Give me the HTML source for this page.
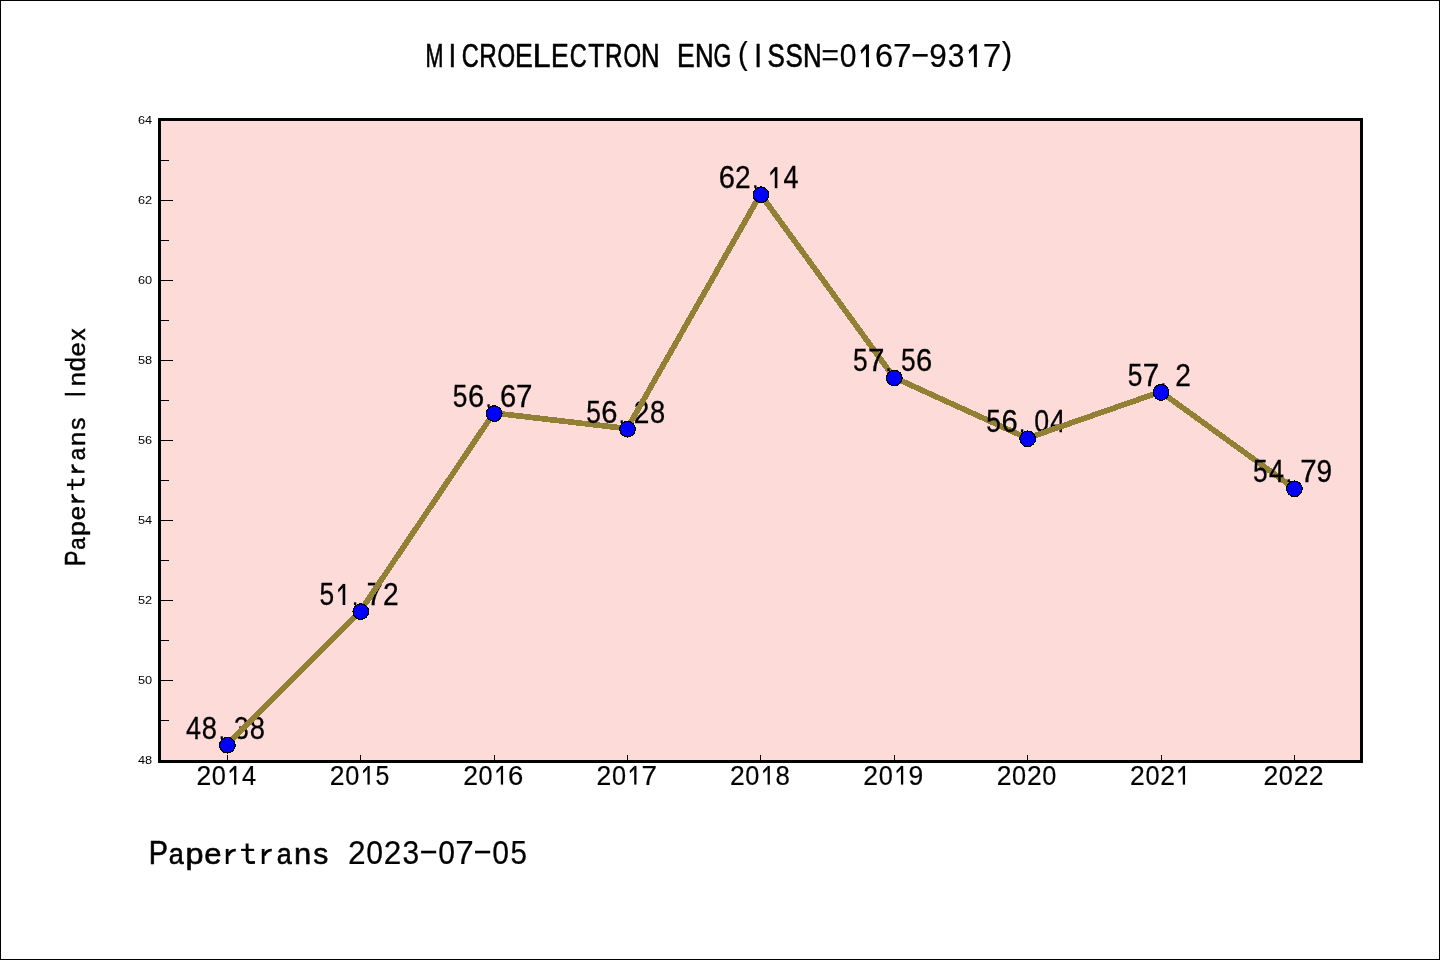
<!DOCTYPE html><html><head><meta charset="utf-8"><style>html,body{margin:0;padding:0;background:#fff;}svg{display:block;will-change:transform;}text{font-family:"Liberation Sans",sans-serif;fill:#000;}</style></head><body>
<svg width="1440" height="960" viewBox="0 0 1440 960">
<rect x="0" y="0" width="1440" height="960" fill="#fff"/>
<rect x="0.5" y="0.5" width="1439" height="959" fill="none" stroke="#000" stroke-width="1"/>
<rect x="159" y="119" width="1202" height="642" fill="#fddbd8"/>
<rect x="161" y="760" width="12" height="1" fill="#000"/>
<rect x="161" y="720" width="8" height="1" fill="#000"/>
<rect x="161" y="680" width="12" height="1" fill="#000"/>
<rect x="161" y="640" width="8" height="1" fill="#000"/>
<rect x="161" y="600" width="12" height="1" fill="#000"/>
<rect x="161" y="560" width="8" height="1" fill="#000"/>
<rect x="161" y="520" width="12" height="1" fill="#000"/>
<rect x="161" y="480" width="8" height="1" fill="#000"/>
<rect x="161" y="440" width="12" height="1" fill="#000"/>
<rect x="161" y="400" width="8" height="1" fill="#000"/>
<rect x="161" y="360" width="12" height="1" fill="#000"/>
<rect x="161" y="320" width="8" height="1" fill="#000"/>
<rect x="161" y="280" width="12" height="1" fill="#000"/>
<rect x="161" y="240" width="8" height="1" fill="#000"/>
<rect x="161" y="200" width="12" height="1" fill="#000"/>
<rect x="161" y="160" width="8" height="1" fill="#000"/>
<rect x="161" y="120" width="12" height="1" fill="#000"/>
<rect x="227" y="755" width="1" height="5" fill="#000"/>
<rect x="360" y="755" width="1" height="5" fill="#000"/>
<rect x="494" y="755" width="1" height="5" fill="#000"/>
<rect x="627" y="755" width="1" height="5" fill="#000"/>
<rect x="760" y="755" width="1" height="5" fill="#000"/>
<rect x="894" y="755" width="1" height="5" fill="#000"/>
<rect x="1027" y="755" width="1" height="5" fill="#000"/>
<rect x="1161" y="755" width="1" height="5" fill="#000"/>
<rect x="1294" y="755" width="1" height="5" fill="#000"/>
<g transform="scale(1.1300,1)">
<text x="128.36" y="764.00" font-size="11.30" text-anchor="middle">48</text>
<text x="128.36" y="684.00" font-size="11.30" text-anchor="middle">50</text>
<text x="128.36" y="604.00" font-size="11.30" text-anchor="middle">52</text>
<text x="128.36" y="524.00" font-size="11.30" text-anchor="middle">54</text>
<text x="128.36" y="444.00" font-size="11.30" text-anchor="middle">56</text>
<text x="128.36" y="364.00" font-size="11.30" text-anchor="middle">58</text>
<text x="128.36" y="284.00" font-size="11.30" text-anchor="middle">60</text>
<text x="128.36" y="204.00" font-size="11.30" text-anchor="middle">62</text>
<text x="128.36" y="124.00" font-size="11.30" text-anchor="middle">64</text>
</g>
<text transform="translate(203.80,784.60) scale(0.9756,1.0000)" x="-7.56" y="0" font-size="27.18" stroke="#000" stroke-width="0.20">2</text>
<text transform="translate(218.90,784.60) scale(0.9297,1.0000)" x="-7.56" y="0" font-size="27.18" stroke="#000" stroke-width="0.20">0</text>
<path d="M234.07 765.90H236.34V784.60H234.07Z" fill="#000"/>
<path d="M229.55 770.76L234.27 765.90L234.27 768.97L229.85 773.49Z" fill="#000"/>
<text transform="translate(249.10,784.60) scale(0.9371,1.0000)" x="-7.47" y="0" font-size="27.18" stroke="#000" stroke-width="0.20">4</text>
<text transform="translate(337.18,784.60) scale(0.9756,1.0000)" x="-7.56" y="0" font-size="27.18" stroke="#000" stroke-width="0.20">2</text>
<text transform="translate(352.27,784.60) scale(0.9297,1.0000)" x="-7.56" y="0" font-size="27.18" stroke="#000" stroke-width="0.20">0</text>
<path d="M367.44 765.90H369.72V784.60H367.44Z" fill="#000"/>
<path d="M362.92 770.76L367.64 765.90L367.64 768.97L363.22 773.49Z" fill="#000"/>
<text transform="translate(382.48,784.60) scale(0.9139,1.0000)" x="-7.53" y="0" font-size="27.18" stroke="#000" stroke-width="0.20">5</text>
<text transform="translate(470.55,784.60) scale(0.9756,1.0000)" x="-7.56" y="0" font-size="27.18" stroke="#000" stroke-width="0.20">2</text>
<text transform="translate(485.65,784.60) scale(0.9297,1.0000)" x="-7.56" y="0" font-size="27.18" stroke="#000" stroke-width="0.20">0</text>
<path d="M500.82 765.90H503.09V784.60H500.82Z" fill="#000"/>
<path d="M496.30 770.76L501.02 765.90L501.02 768.97L496.60 773.49Z" fill="#000"/>
<text transform="translate(515.85,784.60) scale(1.0113,1.0000)" x="-7.65" y="0" font-size="27.18" stroke="#000" stroke-width="0.20">6</text>
<text transform="translate(603.92,784.60) scale(0.9756,1.0000)" x="-7.56" y="0" font-size="27.18" stroke="#000" stroke-width="0.20">2</text>
<text transform="translate(619.02,784.60) scale(0.9297,1.0000)" x="-7.56" y="0" font-size="27.18" stroke="#000" stroke-width="0.20">0</text>
<path d="M634.19 765.90H636.47V784.60H634.19Z" fill="#000"/>
<path d="M629.67 770.76L634.39 765.90L634.39 768.97L629.97 773.49Z" fill="#000"/>
<text transform="translate(649.22,784.60) scale(1.0265,1.0000)" x="-7.57" y="0" font-size="27.18" stroke="#000" stroke-width="0.20">7</text>
<text transform="translate(737.30,784.60) scale(0.9756,1.0000)" x="-7.56" y="0" font-size="27.18" stroke="#000" stroke-width="0.20">2</text>
<text transform="translate(752.40,784.60) scale(0.9297,1.0000)" x="-7.56" y="0" font-size="27.18" stroke="#000" stroke-width="0.20">0</text>
<path d="M767.57 765.90H769.84V784.60H767.57Z" fill="#000"/>
<path d="M763.05 770.76L767.77 765.90L767.77 768.97L763.35 773.49Z" fill="#000"/>
<text transform="translate(782.60,784.60) scale(0.9471,1.0000)" x="-7.56" y="0" font-size="27.18" stroke="#000" stroke-width="0.20">8</text>
<text transform="translate(870.67,784.60) scale(0.9756,1.0000)" x="-7.56" y="0" font-size="27.18" stroke="#000" stroke-width="0.20">2</text>
<text transform="translate(885.77,784.60) scale(0.9297,1.0000)" x="-7.56" y="0" font-size="27.18" stroke="#000" stroke-width="0.20">0</text>
<path d="M900.94 765.90H903.22V784.60H900.94Z" fill="#000"/>
<path d="M896.42 770.76L901.14 765.90L901.14 768.97L896.72 773.49Z" fill="#000"/>
<text transform="translate(915.97,784.60) scale(0.9742,1.0000)" x="-7.55" y="0" font-size="27.18" stroke="#000" stroke-width="0.20">9</text>
<text transform="translate(1004.05,784.60) scale(0.9756,1.0000)" x="-7.56" y="0" font-size="27.18" stroke="#000" stroke-width="0.20">2</text>
<text transform="translate(1019.15,784.60) scale(0.9297,1.0000)" x="-7.56" y="0" font-size="27.18" stroke="#000" stroke-width="0.20">0</text>
<text transform="translate(1034.25,784.60) scale(0.9756,1.0000)" x="-7.56" y="0" font-size="27.18" stroke="#000" stroke-width="0.20">2</text>
<text transform="translate(1049.35,784.60) scale(0.9297,1.0000)" x="-7.56" y="0" font-size="27.18" stroke="#000" stroke-width="0.20">0</text>
<text transform="translate(1137.42,784.60) scale(0.9756,1.0000)" x="-7.56" y="0" font-size="27.18" stroke="#000" stroke-width="0.20">2</text>
<text transform="translate(1152.53,784.60) scale(0.9297,1.0000)" x="-7.56" y="0" font-size="27.18" stroke="#000" stroke-width="0.20">0</text>
<text transform="translate(1167.62,784.60) scale(0.9756,1.0000)" x="-7.56" y="0" font-size="27.18" stroke="#000" stroke-width="0.20">2</text>
<path d="M1182.79 765.90H1185.07V784.60H1182.79Z" fill="#000"/>
<path d="M1178.27 770.76L1182.99 765.90L1182.99 768.97L1178.57 773.49Z" fill="#000"/>
<text transform="translate(1270.80,784.60) scale(0.9756,1.0000)" x="-7.56" y="0" font-size="27.18" stroke="#000" stroke-width="0.20">2</text>
<text transform="translate(1285.90,784.60) scale(0.9297,1.0000)" x="-7.56" y="0" font-size="27.18" stroke="#000" stroke-width="0.20">0</text>
<text transform="translate(1301.00,784.60) scale(0.9756,1.0000)" x="-7.56" y="0" font-size="27.18" stroke="#000" stroke-width="0.20">2</text>
<text transform="translate(1316.10,784.60) scale(0.9756,1.0000)" x="-7.56" y="0" font-size="27.18" stroke="#000" stroke-width="0.20">2</text>
<text transform="translate(193.40,738.60) scale(0.8800,1.0000)" x="-8.43" y="0" font-size="30.67" stroke="#000" stroke-width="0.30">4</text>
<text transform="translate(209.40,738.60) scale(0.8894,1.0000)" x="-8.53" y="0" font-size="30.67" stroke="#000" stroke-width="0.30">8</text>
<text transform="translate(221.72,738.60) scale(0.7200,0.7800)" x="-4.26" y="0" font-size="30.67" stroke="#000" stroke-width="0.30">.</text>
<text transform="translate(241.40,738.60) scale(0.8693,1.0000)" x="-8.44" y="0" font-size="30.67" stroke="#000" stroke-width="0.30">3</text>
<text transform="translate(257.40,738.60) scale(0.8894,1.0000)" x="-8.53" y="0" font-size="30.67" stroke="#000" stroke-width="0.30">8</text>
<line transform="translate(-0.40,-0.60)" x1="227.40" y1="745.20" x2="360.77" y2="611.60" stroke="#928135" stroke-width="5.70" stroke-linecap="butt" shape-rendering="crispEdges"/>
<text transform="translate(326.77,605.00) scale(0.8583,1.0000)" x="-8.50" y="0" font-size="30.67" stroke="#000" stroke-width="0.30">5</text>
<path d="M342.65 583.90H345.25V605.00H342.65Z" fill="#000"/>
<path d="M338.05 589.39L342.85 583.90L342.85 587.42L338.35 592.51Z" fill="#000"/>
<text transform="translate(355.09,605.00) scale(0.7200,0.7800)" x="-4.26" y="0" font-size="30.67" stroke="#000" stroke-width="0.30">.</text>
<text transform="translate(374.77,605.00) scale(0.9640,1.0000)" x="-8.54" y="0" font-size="30.67" stroke="#000" stroke-width="0.30">7</text>
<text transform="translate(390.77,605.00) scale(0.9161,1.0000)" x="-8.53" y="0" font-size="30.67" stroke="#000" stroke-width="0.30">2</text>
<line transform="translate(-0.40,-0.60)" x1="360.77" y1="611.60" x2="494.15" y2="413.60" stroke="#928135" stroke-width="5.70" stroke-linecap="butt" shape-rendering="crispEdges"/>
<text transform="translate(460.15,407.00) scale(0.8583,1.0000)" x="-8.50" y="0" font-size="30.67" stroke="#000" stroke-width="0.30">5</text>
<text transform="translate(476.15,407.00) scale(0.9497,1.0000)" x="-8.63" y="0" font-size="30.67" stroke="#000" stroke-width="0.30">6</text>
<text transform="translate(488.47,407.00) scale(0.7200,0.7800)" x="-4.26" y="0" font-size="30.67" stroke="#000" stroke-width="0.30">.</text>
<text transform="translate(508.15,407.00) scale(0.9497,1.0000)" x="-8.63" y="0" font-size="30.67" stroke="#000" stroke-width="0.30">6</text>
<text transform="translate(524.15,407.00) scale(0.9640,1.0000)" x="-8.54" y="0" font-size="30.67" stroke="#000" stroke-width="0.30">7</text>
<line transform="translate(-0.40,-0.60)" x1="494.15" y1="413.60" x2="627.52" y2="429.20" stroke="#928135" stroke-width="5.70" stroke-linecap="butt" shape-rendering="crispEdges"/>
<text transform="translate(593.52,422.60) scale(0.8583,1.0000)" x="-8.50" y="0" font-size="30.67" stroke="#000" stroke-width="0.30">5</text>
<text transform="translate(609.52,422.60) scale(0.9497,1.0000)" x="-8.63" y="0" font-size="30.67" stroke="#000" stroke-width="0.30">6</text>
<text transform="translate(621.85,422.60) scale(0.7200,0.7800)" x="-4.26" y="0" font-size="30.67" stroke="#000" stroke-width="0.30">.</text>
<text transform="translate(641.52,422.60) scale(0.9161,1.0000)" x="-8.53" y="0" font-size="30.67" stroke="#000" stroke-width="0.30">2</text>
<text transform="translate(657.52,422.60) scale(0.8894,1.0000)" x="-8.53" y="0" font-size="30.67" stroke="#000" stroke-width="0.30">8</text>
<line transform="translate(-0.40,-0.60)" x1="627.52" y1="429.20" x2="760.90" y2="194.80" stroke="#928135" stroke-width="5.70" stroke-linecap="butt" shape-rendering="crispEdges"/>
<text transform="translate(726.90,188.20) scale(0.9497,1.0000)" x="-8.63" y="0" font-size="30.67" stroke="#000" stroke-width="0.30">6</text>
<text transform="translate(742.90,188.20) scale(0.9161,1.0000)" x="-8.53" y="0" font-size="30.67" stroke="#000" stroke-width="0.30">2</text>
<text transform="translate(755.22,188.20) scale(0.7200,0.7800)" x="-4.26" y="0" font-size="30.67" stroke="#000" stroke-width="0.30">.</text>
<path d="M774.77 167.10H777.38V188.20H774.77Z" fill="#000"/>
<path d="M770.18 172.59L774.97 167.10L774.97 170.62L770.48 175.71Z" fill="#000"/>
<text transform="translate(790.90,188.20) scale(0.8800,1.0000)" x="-8.43" y="0" font-size="30.67" stroke="#000" stroke-width="0.30">4</text>
<line transform="translate(-0.40,-0.60)" x1="760.90" y1="194.80" x2="894.27" y2="378.00" stroke="#928135" stroke-width="5.70" stroke-linecap="butt" shape-rendering="crispEdges"/>
<text transform="translate(860.27,371.40) scale(0.8583,1.0000)" x="-8.50" y="0" font-size="30.67" stroke="#000" stroke-width="0.30">5</text>
<text transform="translate(876.27,371.40) scale(0.9640,1.0000)" x="-8.54" y="0" font-size="30.67" stroke="#000" stroke-width="0.30">7</text>
<text transform="translate(888.60,371.40) scale(0.7200,0.7800)" x="-4.26" y="0" font-size="30.67" stroke="#000" stroke-width="0.30">.</text>
<text transform="translate(908.27,371.40) scale(0.8583,1.0000)" x="-8.50" y="0" font-size="30.67" stroke="#000" stroke-width="0.30">5</text>
<text transform="translate(924.27,371.40) scale(0.9497,1.0000)" x="-8.63" y="0" font-size="30.67" stroke="#000" stroke-width="0.30">6</text>
<line transform="translate(-0.40,-0.60)" x1="894.27" y1="378.00" x2="1027.65" y2="438.80" stroke="#928135" stroke-width="5.70" stroke-linecap="butt" shape-rendering="crispEdges"/>
<text transform="translate(993.65,432.20) scale(0.8583,1.0000)" x="-8.50" y="0" font-size="30.67" stroke="#000" stroke-width="0.30">5</text>
<text transform="translate(1009.65,432.20) scale(0.9497,1.0000)" x="-8.63" y="0" font-size="30.67" stroke="#000" stroke-width="0.30">6</text>
<text transform="translate(1021.97,432.20) scale(0.7200,0.7800)" x="-4.26" y="0" font-size="30.67" stroke="#000" stroke-width="0.30">.</text>
<text transform="translate(1041.65,432.20) scale(0.8731,1.0000)" x="-8.53" y="0" font-size="30.67" stroke="#000" stroke-width="0.30">0</text>
<text transform="translate(1057.65,432.20) scale(0.8800,1.0000)" x="-8.43" y="0" font-size="30.67" stroke="#000" stroke-width="0.30">4</text>
<line transform="translate(-0.40,-0.60)" x1="1027.65" y1="438.80" x2="1161.03" y2="392.40" stroke="#928135" stroke-width="5.70" stroke-linecap="butt" shape-rendering="crispEdges"/>
<text transform="translate(1135.03,385.80) scale(0.8583,1.0000)" x="-8.50" y="0" font-size="30.67" stroke="#000" stroke-width="0.30">5</text>
<text transform="translate(1151.03,385.80) scale(0.9640,1.0000)" x="-8.54" y="0" font-size="30.67" stroke="#000" stroke-width="0.30">7</text>
<text transform="translate(1163.35,385.80) scale(0.7200,0.7800)" x="-4.26" y="0" font-size="30.67" stroke="#000" stroke-width="0.30">.</text>
<text transform="translate(1183.03,385.80) scale(0.9161,1.0000)" x="-8.53" y="0" font-size="30.67" stroke="#000" stroke-width="0.30">2</text>
<line transform="translate(-0.40,-0.60)" x1="1161.03" y1="392.40" x2="1294.40" y2="488.80" stroke="#928135" stroke-width="5.70" stroke-linecap="butt" shape-rendering="crispEdges"/>
<text transform="translate(1260.40,482.20) scale(0.8583,1.0000)" x="-8.50" y="0" font-size="30.67" stroke="#000" stroke-width="0.30">5</text>
<text transform="translate(1276.40,482.20) scale(0.8800,1.0000)" x="-8.43" y="0" font-size="30.67" stroke="#000" stroke-width="0.30">4</text>
<text transform="translate(1288.72,482.20) scale(0.7200,0.7800)" x="-4.26" y="0" font-size="30.67" stroke="#000" stroke-width="0.30">.</text>
<text transform="translate(1308.40,482.20) scale(0.9640,1.0000)" x="-8.54" y="0" font-size="30.67" stroke="#000" stroke-width="0.30">7</text>
<text transform="translate(1324.40,482.20) scale(0.9148,1.0000)" x="-8.52" y="0" font-size="30.67" stroke="#000" stroke-width="0.30">9</text>
<circle cx="227.40" cy="745.20" r="7.80" fill="#0000ff" stroke="#000" stroke-width="1.2" shape-rendering="crispEdges"/>
<circle cx="360.77" cy="611.60" r="7.80" fill="#0000ff" stroke="#000" stroke-width="1.2" shape-rendering="crispEdges"/>
<circle cx="494.15" cy="413.60" r="7.80" fill="#0000ff" stroke="#000" stroke-width="1.2" shape-rendering="crispEdges"/>
<circle cx="627.52" cy="429.20" r="7.80" fill="#0000ff" stroke="#000" stroke-width="1.2" shape-rendering="crispEdges"/>
<circle cx="760.90" cy="194.80" r="7.80" fill="#0000ff" stroke="#000" stroke-width="1.2" shape-rendering="crispEdges"/>
<circle cx="894.27" cy="378.00" r="7.80" fill="#0000ff" stroke="#000" stroke-width="1.2" shape-rendering="crispEdges"/>
<circle cx="1027.65" cy="438.80" r="7.80" fill="#0000ff" stroke="#000" stroke-width="1.2" shape-rendering="crispEdges"/>
<circle cx="1161.03" cy="392.40" r="7.80" fill="#0000ff" stroke="#000" stroke-width="1.2" shape-rendering="crispEdges"/>
<circle cx="1294.40" cy="488.80" r="7.80" fill="#0000ff" stroke="#000" stroke-width="1.2" shape-rendering="crispEdges"/>
<rect x="158" y="118" width="1205" height="3" fill="#000"/>
<rect x="158" y="760" width="1205" height="3" fill="#000"/>
<rect x="158" y="118" width="3" height="645" fill="#000"/>
<rect x="1360" y="118" width="3" height="645" fill="#000"/>
<text transform="translate(434.39,67.20) scale(0.6492,1.0000)" x="-13.80" y="0" font-size="33.14" stroke="#000" stroke-width="0.65">M</text>
<text transform="translate(452.38,67.20) scale(0.7800,1.0000)" x="-4.60" y="0" font-size="33.14" stroke="#000" stroke-width="0.65">I</text>
<text transform="translate(470.38,67.20) scale(0.7115,1.0000)" x="-12.18" y="0" font-size="33.14" stroke="#000" stroke-width="0.65">C</text>
<text transform="translate(488.36,67.20) scale(0.7314,1.0000)" x="-12.56" y="0" font-size="33.14" stroke="#000" stroke-width="0.65">R</text>
<text transform="translate(506.35,67.20) scale(0.6839,1.0000)" x="-12.88" y="0" font-size="33.14" stroke="#000" stroke-width="0.65">O</text>
<text transform="translate(524.35,67.20) scale(0.8013,1.0000)" x="-11.70" y="0" font-size="33.14" stroke="#000" stroke-width="0.65">E</text>
<text transform="translate(542.33,67.20) scale(0.9603,1.0000)" x="-10.02" y="0" font-size="33.14" stroke="#000" stroke-width="0.65">L</text>
<text transform="translate(560.32,67.20) scale(0.8013,1.0000)" x="-11.70" y="0" font-size="33.14" stroke="#000" stroke-width="0.65">E</text>
<text transform="translate(578.31,67.20) scale(0.7115,1.0000)" x="-12.18" y="0" font-size="33.14" stroke="#000" stroke-width="0.65">C</text>
<text transform="translate(596.30,67.20) scale(0.7969,1.0000)" x="-10.11" y="0" font-size="33.14" stroke="#000" stroke-width="0.65">T</text>
<text transform="translate(614.29,67.20) scale(0.7314,1.0000)" x="-12.56" y="0" font-size="33.14" stroke="#000" stroke-width="0.65">R</text>
<text transform="translate(632.28,67.20) scale(0.6839,1.0000)" x="-12.88" y="0" font-size="33.14" stroke="#000" stroke-width="0.65">O</text>
<text transform="translate(650.27,67.20) scale(0.7774,1.0000)" x="-11.97" y="0" font-size="33.14" stroke="#000" stroke-width="0.65">N</text>
<text transform="translate(686.25,67.20) scale(0.8013,1.0000)" x="-11.70" y="0" font-size="33.14" stroke="#000" stroke-width="0.65">E</text>
<text transform="translate(704.24,67.20) scale(0.7774,1.0000)" x="-11.97" y="0" font-size="33.14" stroke="#000" stroke-width="0.65">N</text>
<text transform="translate(722.23,67.20) scale(0.6902,1.0000)" x="-12.48" y="0" font-size="33.14" stroke="#000" stroke-width="0.65">G</text>
<text transform="translate(743.64,64.01) scale(0.8804,0.9500)" x="-6.45" y="0" font-size="33.14" stroke="#000" stroke-width="0.23">(</text>
<text transform="translate(758.21,67.20) scale(0.7800,1.0000)" x="-4.60" y="0" font-size="33.14" stroke="#000" stroke-width="0.65">I</text>
<text transform="translate(776.20,67.20) scale(0.7827,1.0000)" x="-11.04" y="0" font-size="33.14" stroke="#000" stroke-width="0.65">S</text>
<text transform="translate(794.19,67.20) scale(0.7827,1.0000)" x="-11.04" y="0" font-size="33.14" stroke="#000" stroke-width="0.65">S</text>
<text transform="translate(812.18,67.20) scale(0.7774,1.0000)" x="-11.97" y="0" font-size="33.14" stroke="#000" stroke-width="0.65">N</text>
<rect x="822.71" y="50.11" width="14.93" height="2.26" fill="#000"/>
<rect x="822.71" y="58.09" width="14.93" height="2.26" fill="#000"/>
<text transform="translate(848.16,67.20) scale(0.9085,1.0000)" x="-9.22" y="0" font-size="33.14" stroke="#000" stroke-width="0.23">0</text>
<path d="M865.93 44.40H868.94V67.20H865.93Z" fill="#000"/>
<path d="M860.85 50.33L866.13 44.40L866.13 48.47L861.15 53.94Z" fill="#000"/>
<text transform="translate(884.14,67.20) scale(0.9882,1.0000)" x="-9.33" y="0" font-size="33.14" stroke="#000" stroke-width="0.23">6</text>
<text transform="translate(902.13,67.20) scale(1.0031,1.0000)" x="-9.23" y="0" font-size="33.14" stroke="#000" stroke-width="0.23">7</text>
<rect x="912.57" y="54.04" width="15.11" height="2.61" fill="#000"/>
<text transform="translate(938.11,67.20) scale(0.9519,1.0000)" x="-9.21" y="0" font-size="33.14" stroke="#000" stroke-width="0.23">9</text>
<text transform="translate(956.10,67.20) scale(0.9045,1.0000)" x="-9.12" y="0" font-size="33.14" stroke="#000" stroke-width="0.23">3</text>
<path d="M973.87 44.40H976.88V67.20H973.87Z" fill="#000"/>
<path d="M968.79 50.33L974.07 44.40L974.07 48.47L969.09 53.94Z" fill="#000"/>
<text transform="translate(992.08,67.20) scale(1.0031,1.0000)" x="-9.23" y="0" font-size="33.14" stroke="#000" stroke-width="0.23">7</text>
<text transform="translate(1005.94,64.01) scale(0.9418,0.9500)" x="-4.59" y="0" font-size="33.14" stroke="#000" stroke-width="0.23">)</text>
<text transform="translate(158.80,864.00) scale(0.8594,1.0000)" x="-11.64" y="0" font-size="33.43" stroke="#000" stroke-width="0.65">P</text>
<text transform="translate(176.79,864.00) scale(0.8067,0.8600)" x="-10.01" y="0" font-size="33.43" stroke="#000" stroke-width="0.65">a</text>
<text transform="translate(194.78,864.00) scale(0.9693,0.8600)" x="-9.67" y="0" font-size="33.43" stroke="#000" stroke-width="0.65">p</text>
<text transform="translate(212.77,864.00) scale(0.9289,0.8600)" x="-9.26" y="0" font-size="33.43" stroke="#000" stroke-width="0.65">e</text>
<path d="M227.19 848.93 L227.19 864.00" stroke="#000" stroke-width="2.81" fill="none"/>
<path d="M228.22 855.72 Q230.06 849.74 235.77 850.09" stroke="#000" stroke-width="2.63" fill="none"/>
<path d="M247.13 843.62 L247.13 858.48 Q247.13 862.74 251.05 862.67 L254.96 862.39" stroke="#000" stroke-width="2.90" fill="none"/>
<path d="M241.06 849.90 L254.13 849.90" stroke="#000" stroke-width="2.17" fill="none"/>
<path d="M263.17 848.93 L263.17 864.00" stroke="#000" stroke-width="2.81" fill="none"/>
<path d="M264.21 855.72 Q266.05 849.74 271.75 850.09" stroke="#000" stroke-width="2.63" fill="none"/>
<text transform="translate(284.73,864.00) scale(0.8067,0.8600)" x="-10.01" y="0" font-size="33.43" stroke="#000" stroke-width="0.65">a</text>
<text transform="translate(302.72,864.00) scale(0.9247,0.8600)" x="-9.32" y="0" font-size="33.43" stroke="#000" stroke-width="0.65">n</text>
<text transform="translate(320.70,864.00) scale(0.9009,0.8600)" x="-8.22" y="0" font-size="33.43" stroke="#000" stroke-width="0.65">s</text>
<text transform="translate(356.69,864.00) scale(0.9450,1.0000)" x="-9.30" y="0" font-size="33.43" stroke="#000" stroke-width="0.23">2</text>
<text transform="translate(374.67,864.00) scale(0.9006,1.0000)" x="-9.30" y="0" font-size="33.43" stroke="#000" stroke-width="0.23">0</text>
<text transform="translate(392.66,864.00) scale(0.9450,1.0000)" x="-9.30" y="0" font-size="33.43" stroke="#000" stroke-width="0.23">2</text>
<text transform="translate(410.65,864.00) scale(0.8966,1.0000)" x="-9.20" y="0" font-size="33.43" stroke="#000" stroke-width="0.23">3</text>
<rect x="421.09" y="850.73" width="15.11" height="2.63" fill="#000"/>
<text transform="translate(446.63,864.00) scale(0.9006,1.0000)" x="-9.30" y="0" font-size="33.43" stroke="#000" stroke-width="0.23">0</text>
<text transform="translate(464.62,864.00) scale(0.9944,1.0000)" x="-9.31" y="0" font-size="33.43" stroke="#000" stroke-width="0.23">7</text>
<rect x="475.06" y="850.73" width="15.11" height="2.63" fill="#000"/>
<text transform="translate(500.60,864.00) scale(0.9006,1.0000)" x="-9.30" y="0" font-size="33.43" stroke="#000" stroke-width="0.23">0</text>
<text transform="translate(518.60,864.00) scale(0.8853,1.0000)" x="-9.26" y="0" font-size="33.43" stroke="#000" stroke-width="0.23">5</text>
<g transform="rotate(-90)"><text transform="translate(-557.95,84.50) scale(0.8268,1.0000)" x="-10.02" y="0" font-size="28.78" stroke="#000" stroke-width="0.50">P</text>
<text transform="translate(-543.05,84.50) scale(0.7761,0.8600)" x="-8.61" y="0" font-size="28.78" stroke="#000" stroke-width="0.50">a</text>
<text transform="translate(-528.15,84.50) scale(0.9325,0.8600)" x="-8.33" y="0" font-size="28.78" stroke="#000" stroke-width="0.50">p</text>
<text transform="translate(-513.25,84.50) scale(0.8937,0.8600)" x="-7.97" y="0" font-size="28.78" stroke="#000" stroke-width="0.50">e</text>
<path d="M-501.42 71.53 L-501.42 84.50" stroke="#000" stroke-width="2.39" fill="none"/>
<path d="M-500.53 77.37 Q-498.94 72.22 -494.03 72.52" stroke="#000" stroke-width="2.23" fill="none"/>
<path d="M-484.84 66.96 L-484.84 79.75 Q-484.84 83.41 -481.47 83.35 L-478.10 83.11" stroke="#000" stroke-width="2.47" fill="none"/>
<path d="M-490.06 72.36 L-478.82 72.36" stroke="#000" stroke-width="1.83" fill="none"/>
<path d="M-471.62 71.53 L-471.62 84.50" stroke="#000" stroke-width="2.39" fill="none"/>
<path d="M-470.73 77.37 Q-469.14 72.22 -464.23 72.52" stroke="#000" stroke-width="2.23" fill="none"/>
<text transform="translate(-453.65,84.50) scale(0.7761,0.8600)" x="-8.61" y="0" font-size="28.78" stroke="#000" stroke-width="0.50">a</text>
<text transform="translate(-438.75,84.50) scale(0.8897,0.8600)" x="-8.02" y="0" font-size="28.78" stroke="#000" stroke-width="0.50">n</text>
<text transform="translate(-423.85,84.50) scale(0.8668,0.8600)" x="-7.08" y="0" font-size="28.78" stroke="#000" stroke-width="0.50">s</text>
<text transform="translate(-394.05,84.50) scale(0.7800,1.0000)" x="-4.00" y="0" font-size="28.78" stroke="#000" stroke-width="0.50">I</text>
<text transform="translate(-379.15,84.50) scale(0.8897,0.8600)" x="-8.02" y="0" font-size="28.78" stroke="#000" stroke-width="0.50">n</text>
<text transform="translate(-364.25,84.50) scale(0.8980,0.9500)" x="-7.68" y="0" font-size="28.78" stroke="#000" stroke-width="0.50">d</text>
<text transform="translate(-349.35,84.50) scale(0.8937,0.8600)" x="-7.97" y="0" font-size="28.78" stroke="#000" stroke-width="0.50">e</text>
<text transform="translate(-334.45,84.50) scale(0.8448,0.8600)" x="-7.20" y="0" font-size="28.78" stroke="#000" stroke-width="0.50">x</text></g>
</svg></body></html>
